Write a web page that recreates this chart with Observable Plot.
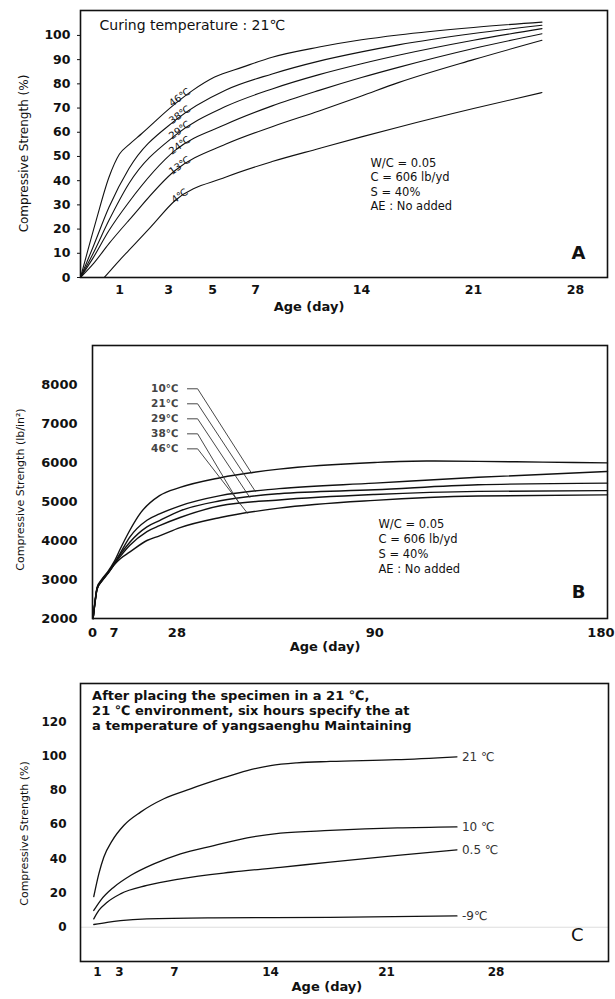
<!DOCTYPE html>
<html><head><meta charset="utf-8">
<script src="https://cdn.jsdelivr.net/npm/d3@7"></script>
<script src="https://cdn.jsdelivr.net/npm/@observablehq/plot@0.6"></script>
<style>
body{margin:0;background:#fff;}
#chart{width:615px;}
#chart svg{display:block;}
</style></head><body><div id="chart"></div>
<script>
// ---------- Panel A : curing temperature 21℃, % strength ----------
const aLabels = ["46℃","38℃","29℃","24℃","13℃","4℃"];
const a46Day = [0, 0.4, 0.73, 1.0, 1.4, 1.9, 3.2, 4.1, 5.1, 6.4, 8.1, 11.2, 14, 16.3, 21, 25.7];
const a46Val = [0, 23.5, 41.4, 51, 55, 59.4, 71, 77.3, 82.8, 86.9, 91, 95.2, 98.2, 100.2, 103.3, 105.5];
const aDay = [0, 0.32, 0.73, 1.38, 3.3, 5.6, 8.1, 11.2, 14, 16.3, 21, 25.7];
const a38Val = [0, 12.5, 29, 44.9, 64.9, 77.4, 84.1, 89.4, 93.2, 96.1, 100.8, 104.2];
const a29Val = [0, 9.8, 23.6, 38.7, 58.7, 70.6, 77.9, 83.8, 88.3, 91.8, 98, 102.8];
const a24Val = [0, 8, 19.4, 31.1, 52.5, 63.2, 70.9, 77.3, 82.6, 86.8, 94.6, 100.7];
const a13Val = [0, 5.5, 14, 23.6, 44.2, 55, 62.3, 68.8, 75, 80.5, 90, 98];
const a4Day = [0.61, 1.0, 1.38, 2.27, 3.3, 5.6, 8.1, 11.2, 14, 16.3, 21, 25.7];
const a4Val = [0, 7.1, 11.2, 20.8, 31.8, 41.4, 47.9, 53.3, 58.1, 62.1, 69.8, 76.4];
const aXTicks = [1, 3, 5, 7, 14, 21, 28];
const aYTicks = [0, 10, 20, 30, 40, 50, 60, 70, 80, 90, 100];
const aTitle = "Curing temperature : 21℃";
const mixNote = ["W/C = 0.05", "C = 606 lb/yd", "S = 40%", "AE : No added"];

// ---------- Panel B : lb/in² up to 180 days ----------
const bLabels = ["10℃","21℃","29℃","38℃","46℃"];
const b10Day = [0.2, 0.9, 1.5, 3, 5, 7, 9.2, 12.2, 16, 22.2, 29, 41.6, 60, 90, 110, 130, 155, 180];
const b10Val = [2000, 2500, 2800, 3000, 3200, 3450, 3800, 4250, 4720, 5150, 5360, 5610, 5830, 6000, 6040, 6030, 6010, 5990];
const bDay = [0.2, 0.9, 1.5, 3, 5, 7, 9.2, 12.2, 18, 22.2, 29, 41.6, 60, 90, 130, 180];
const b21Val = [2000, 2480, 2780, 2980, 3180, 3400, 3690, 4080, 4520, 4680, 4890, 5150, 5330, 5470, 5620, 5770];
const b29Val = [2000, 2470, 2770, 2970, 3170, 3390, 3650, 3950, 4350, 4510, 4760, 5020, 5200, 5300, 5430, 5470];
const b38Val = [2000, 2460, 2760, 2960, 3160, 3380, 3600, 3870, 4230, 4380, 4590, 4890, 5040, 5180, 5260, 5280];
const b46Val = [2000, 2450, 2750, 2950, 3150, 3370, 3540, 3700, 4000, 4120, 4330, 4590, 4830, 5030, 5140, 5170];
const bLegendY = [7890, 7505, 7120, 6735, 6350];
const bLeaderDay = [51.4, 52.6, 50.8, 47.6, 50.1];
const bXTicks = [0, 7, 28, 90, 180];
const bYTicks = [2000, 3000, 4000, 5000, 6000, 7000, 8000];

// ---------- Panel C : after 6 h at 21℃ ----------
const cLabels = ["21 ℃", "10 ℃", "0.5 ℃", "-9℃"];
const c21Day = [0.66, 1.12, 1.57, 2.34, 3.31, 4.53, 6.23, 8.17, 10.36, 12.3, 14, 15.6, 17.6, 21.6, 25.5];
const c21Val = [17.9, 31.2, 40.9, 50.6, 59.4, 67.2, 75, 80.8, 86.7, 91.5, 94.4, 96, 96.8, 97.8, 99.5];
const c10Day = [0.66, 1.27, 2.48, 3.8, 5.5, 7.44, 9.87, 12.3, 14.6, 17.6, 21.7, 25.5];
const c10Val = [9.8, 15.6, 23.4, 30.2, 37, 42.9, 47.7, 52.2, 54.9, 56.5, 58, 58.6];
const c05Day = [0.66, 1.12, 1.88, 3.07, 4.99, 7.44, 11.1, 14.6, 17.6, 21.7, 25.5];
const c05Val = [4.9, 9.8, 14.6, 19.5, 24.4, 28.3, 32.1, 35, 38, 41.9, 45.2];
const cm9Day = [0.66, 1.88, 3.07, 4.99, 9.87, 17.6, 25.5];
const cm9Val = [1.6, 2.9, 3.9, 4.9, 5.5, 5.8, 6.6];
const cXTicks = [1, 3, 7, 14, 21, 28];
const cYTicks = [0, 20, 40, 60, 80, 100, 120];
const cNote = ["After placing the specimen in a 21 ℃,", "21 ℃ environment, six hours specify the at", "a temperature of yangsaenghu Maintaining"];

const yLabelPct = "Compressive Strength (%)";
const yLabelPsi = "Compressive Strength (lb/in²)";
const xLabel = "Age (day)";

// ---------- helpers ----------
const W = 615;
const FONT = "'DejaVu Sans', Verdana, sans-serif";
const INK = "#111";
function rows(label, days, vals) { return days.map((d, i) => ({label, day: d, v: vals[i]})); }
function interp(days, vals, d) {
  for (let i = 1; i < days.length; i++) {
    if (d <= days[i]) { const t = (d - days[i-1]) / (days[i] - days[i-1]); return vals[i-1] + t * (vals[i] - vals[i-1]); }
  }
  return vals[vals.length - 1];
}
const baseStyle = {fontFamily: FONT, fontSize: "12px", color: INK, background: "#fff"};
const el = document.getElementById("chart");

// ---------- Panel A ----------
const aSeries = [[a46Day,a46Val],[aDay,a38Val],[aDay,a29Val],[aDay,a24Val],[aDay,a13Val],[a4Day,a4Val]];
const aRows = aSeries.flatMap(([d, v], i) => rows(aLabels[i], d, v));
const aLabelRows = aSeries.map(([d, v], i) => ({label: aLabels[i], day: 3.6, v: interp(d, v, 3.6)}));

const plotA = Plot.plot({
  width: W, height: 320, marginTop: 10, marginBottom: 43, marginLeft: 80, marginRight: 8,
  style: baseStyle,
  x: {type: "linear", domain: [0, 1, 3, 5, 7, 14, 21, 28], range: [80, 119, 168, 212, 255, 361, 473, 575]},
  y: {domain: [0, 110.3]},
  marks: [
    Plot.axisY({ticks: aYTicks, tickSize: 3, tickPadding: 7, fontWeight: "bold", fontSize: 12.5, label: null}),
    Plot.axisX({ticks: aXTicks, tickSize: 0, tickPadding: 8, fontWeight: "bold", fontSize: 12.5, label: null}),
    Plot.line(aRows, {x: "day", y: "v", z: "label", curve: "monotone-x", stroke: INK, strokeWidth: 1.1}),
    Plot.text(aLabelRows, {x: "day", y: "v", text: "label", rotate: -36, lineAnchor: "bottom", dy: 1, fontSize: 10, fill: INK}),
    Plot.text([aTitle], {text: d => d, frameAnchor: "top-left", textAnchor: "start", lineAnchor: "top", dx: 19, dy: 10, fontSize: 14, fill: INK}),
    Plot.text([mixNote.join("\n")], {text: d => d, frameAnchor: "top-left", textAnchor: "start", lineAnchor: "top", dx: 290, dy: 146, fontSize: 11.5, lineHeight: 1.26, fill: INK}),
    Plot.text(["A"], {text: d => d, frameAnchor: "bottom-right", dx: -22, dy: -19, fontSize: 18, fontWeight: "bold", fill: INK}),
    Plot.text([yLabelPct], {text: d => d, frameAnchor: "left", textAnchor: "middle", rotate: -90, dx: -56, dy: 9.5, fontSize: 12, fill: INK}),
    Plot.text([xLabel], {text: d => d, frameAnchor: "bottom", textAnchor: "middle", dx: -35, dy: 33, fontSize: 13, fontWeight: "bold", fill: INK}),
    Plot.frame({stroke: INK, strokeWidth: 1.6})
  ]
});
el.append(plotA);

// ---------- Panel B ----------
const bSeries = [[b10Day,b10Val],[bDay,b21Val],[bDay,b29Val],[bDay,b38Val],[bDay,b46Val]];
const bRows = bSeries.flatMap(([d, v], i) => rows(bLabels[i], d, v));
const bLeaders = bSeries.flatMap(([d, v], i) => [
  {label: bLabels[i], day: 31.3, v: bLegendY[i]},
  {label: bLabels[i], day: 34.5, v: bLegendY[i]},
  {label: bLabels[i], day: bLeaderDay[i], v: interp(d, v, bLeaderDay[i])}
]);
const bLegend = bLabels.map((l, i) => ({label: l, day: 31.3, v: bLegendY[i]}));
const bLastTick = bXTicks[bXTicks.length - 1];

const plotB = Plot.plot({
  width: W, height: 340, marginTop: 25, marginBottom: 42, marginLeft: 92, marginRight: 8,
  style: baseStyle,
  x: {type: "linear", domain: [0, 7, 28, 90, 180], range: [92, 113.5, 176.4, 374.2, 607]},
  y: {domain: [2000, 9000]},
  marks: [
    Plot.axisY({ticks: bYTicks, tickFormat: d => String(d), tickSize: 0, tickPadding: 15, fontWeight: "bold", fontSize: 13, label: null}),
    Plot.axisX({ticks: bXTicks.slice(0, -1), tickSize: 0, tickPadding: 9, fontWeight: "bold", fontSize: 13, label: null}),
    Plot.text([bLastTick], {x: d => d, text: d => String(d), frameAnchor: "bottom", lineAnchor: "top", textAnchor: "end", dx: 7, dy: 9, fontWeight: "bold", fontSize: 13, fill: INK}),
    Plot.line(bRows, {x: "day", y: "v", z: "label", curve: "monotone-x", stroke: INK, strokeWidth: 1.4}),
    Plot.line(bLeaders, {x: "day", y: "v", z: "label", stroke: "#333", strokeWidth: 0.9}),
    Plot.text(bLegend, {x: "day", y: "v", text: "label", textAnchor: "end", dx: -9, fontSize: 10.5, fontWeight: "bold", fill: "#444"}),
    Plot.text([mixNote.join("\n")], {text: d => d, frameAnchor: "top-left", textAnchor: "start", lineAnchor: "top", dx: 286, dy: 172, fontSize: 11.5, lineHeight: 1.3, fill: INK}),
    Plot.text(["B"], {text: d => d, frameAnchor: "bottom-right", dx: -22, dy: -21, fontSize: 18, fontWeight: "bold", fill: INK}),
    Plot.text([yLabelPsi], {text: d => d, frameAnchor: "left", textAnchor: "middle", rotate: -90, dx: -72, dy: 7.5, fontSize: 11, fill: INK}),
    Plot.text([xLabel], {text: d => d, frameAnchor: "bottom", textAnchor: "middle", dx: -25, dy: 32, fontSize: 13, fontWeight: "bold", fill: INK}),
    Plot.frame({stroke: INK, strokeWidth: 1.6})
  ]
});
el.append(plotB);

// ---------- Panel C ----------
const cSeries = [[c21Day,c21Val],[c10Day,c10Val],[c05Day,c05Val],[cm9Day,cm9Val]];
const cRows = cSeries.flatMap(([d, v], i) => rows(cLabels[i], d, v));
const cEnds = cSeries.map(([d, v], i) => ({label: cLabels[i], day: d[d.length-1], v: v[v.length-1]}));

const plotC = Plot.plot({
  width: W, height: 339, marginTop: 23, marginBottom: 38, marginLeft: 80, marginRight: 7,
  style: baseStyle,
  x: {type: "linear", domain: [0, 1, 3, 7, 14, 21, 28], range: [86, 97, 119, 174, 270, 386, 495.6]},
  y: {domain: [-20, 142.3]},
  marks: [
    Plot.ruleY([0], {stroke: "#ddd"}),
    Plot.axisY({ticks: cYTicks, tickSize: 0, tickPadding: 14, fontWeight: "bold", fontSize: 12, label: null}),
    Plot.axisX({ticks: cXTicks, tickSize: 0, tickPadding: 6, fontWeight: "bold", fontSize: 12, label: null}),
    Plot.line(cRows, {x: "day", y: "v", z: "label", curve: "monotone-x", stroke: INK, strokeWidth: 1.3}),
    Plot.text(cEnds, {x: "day", y: "v", text: "label", textAnchor: "start", dx: 5, fontSize: 12, fill: "#333"}),
    Plot.text([cNote.join("\n")], {text: d => d, frameAnchor: "top-left", textAnchor: "start", lineAnchor: "top", dx: 11.6, dy: 5.5, fontSize: 13, fontWeight: "bold", lineHeight: 1.15, fill: INK}),
    Plot.text(["C"], {text: d => d, frameAnchor: "bottom-right", dx: -25, dy: -21, fontSize: 18, fill: INK}),
    Plot.text([yLabelPct], {text: d => d, frameAnchor: "left", textAnchor: "middle", rotate: -90, dx: -56, dy: 11, fontSize: 11, fill: INK}),
    Plot.text([xLabel], {text: d => d, frameAnchor: "bottom", textAnchor: "middle", dx: -17.6, dy: 29, fontSize: 13, fontWeight: "bold", fill: INK}),
    Plot.frame({stroke: INK, strokeWidth: 1.6})
  ]
});
el.append(plotC);
</script></body></html>
